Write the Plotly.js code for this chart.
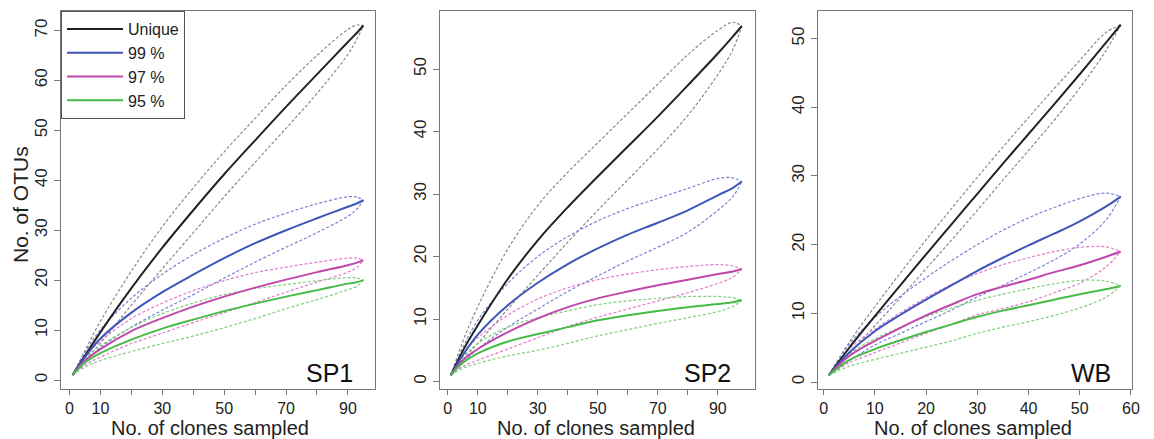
<!DOCTYPE html>
<html>
<head>
<meta charset="utf-8">
<script src="https://cdn.plot.ly/plotly-3.0.1.min.js"></script>
<style>html,body{margin:0;padding:0;background:#fff;}#chart{width:1154px;height:439px;}</style>
</head>
<body>
<div id="chart"></div>
<script>
// ---- data ----
var seriesNames = ["Unique", "99 %", "97 %", "95 %"];
var panelLabels = ["SP1", "SP2", "WB"];
var xTitle = "No. of clones sampled";
var yTitle = "No. of OTUs";

// SP1
var sp1X = [1, 5, 10, 20, 30, 40, 50, 60, 70, 80, 90, 93, 95];
var sp1Unique      = [1, 4.9, 9.6, 18.4, 26.5, 34, 41.2, 48, 54.7, 61.2, 67.7, 69.6, 71];
var sp1UniqueUpper = [1, 5.9, 11.8, 21.8, 30.7, 38.5, 45.7, 52.4, 59, 65, 70.2, 71.1, 71];
var sp1UniqueLower = [1, 3.9, 7.4, 15, 22.3, 29.5, 36.7, 43.6, 50.4, 57.4, 65.2, 68.4, 71];
var sp1P99      = [1, 4.6, 8.3, 13.5, 17.6, 21.1, 24.4, 27.4, 30, 32.4, 34.7, 35.4, 36];
var sp1P99Upper = [1, 5.6, 10.1, 16.4, 21.2, 25.1, 28.4, 31.2, 33.4, 35.3, 36.7, 36.6, 36];
var sp1P99Lower = [1, 3.6, 6.5, 10.6, 14, 17.1, 20.4, 23.6, 26.6, 29.5, 32.8, 34.3, 36];
var sp1P97      = [1, 3.9, 6.2, 9.8, 12.4, 14.7, 16.7, 18.5, 20.1, 21.6, 23, 23.5, 24];
var sp1P97Upper = [1, 4.8, 7.8, 12.3, 15.4, 17.9, 19.9, 21.5, 22.6, 23.6, 24.4, 24.4, 24];
var sp1P97Lower = [1, 3, 4.6, 7.3, 9.4, 11.5, 13.5, 15.5, 17.6, 19.6, 21.6, 22.6, 24];
var sp1P95      = [1, 3.5, 5.4, 8.1, 10.3, 12.1, 13.8, 15.3, 16.7, 18, 19.3, 19.6, 20];
var sp1P95Upper = [1, 4.4, 6.9, 10.5, 13.3, 15.4, 17.1, 18.3, 19.1, 19.9, 20.5, 20.4, 20];
var sp1P95Lower = [1, 2.6, 3.9, 5.7, 7.3, 8.8, 10.5, 12.3, 14.3, 16.1, 18.1, 18.8, 20];

// SP2
var sp2X = [1, 5, 10, 20, 30, 40, 50, 60, 70, 80, 90, 95, 98];
var sp2Unique      = [1, 4.9, 9, 16.4, 22.6, 27.9, 32.8, 37.6, 42.4, 47.4, 52.5, 55.2, 56.9];
var sp2UniqueUpper = [1, 6.4, 12, 21.2, 28.2, 33.5, 38.2, 42.9, 47.6, 52.3, 56.2, 57.5, 56.9];
var sp2UniqueLower = [1, 3.5, 6.1, 11.6, 17, 22.3, 27.4, 32.3, 37.2, 42.6, 49.1, 53.1, 56.9];
var sp2P99      = [1, 4.2, 7.5, 12.2, 15.8, 18.8, 21.3, 23.5, 25.4, 27.4, 29.8, 31, 32];
var sp2P99Upper = [1, 5.4, 9.8, 15.7, 20, 23.2, 25.7, 27.7, 29.3, 30.9, 32.5, 32.6, 32];
var sp2P99Lower = [1, 3, 5.2, 8.7, 11.6, 14.4, 16.9, 19.3, 21.5, 23.9, 27.4, 29.6, 32];
var sp2P97      = [1, 3.4, 5.2, 7.9, 10.1, 11.9, 13.3, 14.4, 15.4, 16.3, 17.2, 17.6, 18];
var sp2P97Upper = [1, 4.4, 7, 10.6, 13.2, 15, 16.3, 17.2, 17.9, 18.4, 18.7, 18.5, 18];
var sp2P97Lower = [1, 2.4, 3.4, 5.2, 7, 8.8, 10.3, 11.6, 12.9, 14.2, 15.7, 16.7, 18];
var sp2P95      = [1, 3, 4.5, 6.4, 7.6, 8.7, 9.8, 10.6, 11.3, 11.9, 12.4, 12.7, 13];
var sp2P95Upper = [1, 3.9, 6.1, 8.7, 10.2, 11.3, 12.3, 12.9, 13.3, 13.6, 13.6, 13.4, 13];
var sp2P95Lower = [1, 2.1, 2.9, 4.1, 5, 6.1, 7.3, 8.3, 9.3, 10.2, 11.2, 12, 13];

// WB
var wbX = [1, 5, 10, 15, 20, 25, 30, 35, 40, 45, 50, 55, 58];
var wbUnique      = [1, 5, 9.6, 14.1, 18.6, 23, 27.4, 31.8, 36.1, 40.4, 44.8, 49.3, 52];
var wbUniqueUpper = [1, 5.8, 11, 15.9, 20.7, 25.3, 29.8, 34.2, 38.5, 42.7, 46.8, 50.8, 52];
var wbUniqueLower = [1, 4.2, 8.2, 12.3, 16.5, 20.7, 25, 29.4, 33.7, 38.1, 42.8, 48.1, 52];
var wbP99      = [1, 4.3, 7.4, 9.8, 12, 14.1, 16.2, 18.1, 19.9, 21.6, 23.4, 25.5, 27];
var wbP99Upper = [1, 5.5, 9.4, 12.5, 15.2, 17.7, 20, 22.1, 23.9, 25.4, 26.7, 27.5, 27];
var wbP99Lower = [1, 3.1, 5.4, 7.1, 8.8, 10.5, 12.4, 14.1, 15.9, 17.8, 20.1, 23.5, 27];
var wbP97      = [1, 3.8, 6, 7.9, 9.7, 11.3, 12.8, 13.9, 14.9, 16, 17, 18.2, 19];
var wbP97Upper = [1, 4.8, 7.7, 10.1, 12.3, 14.2, 15.8, 17.1, 18.1, 19, 19.6, 19.7, 19];
var wbP97Lower = [1, 2.8, 4.3, 5.7, 7.1, 8.4, 9.8, 10.7, 11.7, 13, 14.4, 16.7, 19];
var wbP95      = [1, 3.2, 4.8, 6.1, 7.3, 8.4, 9.5, 10.4, 11.2, 12, 12.8, 13.5, 14];
var wbP95Upper = [1, 4.1, 6.3, 8, 9.5, 10.8, 11.9, 12.8, 13.6, 14.3, 14.8, 14.7, 14];
var wbP95Lower = [1, 2.3, 3.3, 4.2, 5.1, 6, 7.1, 8, 8.8, 9.7, 10.8, 12.3, 14];

var xTickVals12 = [0, 10, 20, 30, 40, 50, 60, 70, 80, 90];
var xTickText12 = ["0", "10", "", "30", "", "50", "", "70", "", "90"];
var xTickVals3 = [0, 10, 20, 30, 40, 50, 60];
var yTickVals1 = [0, 10, 20, 30, 40, 50, 60, 70];
var yTickVals23 = [0, 10, 20, 30, 40, 50];

// ---- styling ----
var solidColors = ["#222222", "#3f55b8", "#c048ac", "#46bb46"];
var dashColors  = ["#8a8a8a", "#7b80d6", "#e07cc8", "#7fd07f"];

var panels = [
  {x: sp1X, mean: [sp1Unique, sp1P99, sp1P97, sp1P95], up: [sp1UniqueUpper, sp1P99Upper, sp1P97Upper, sp1P95Upper], lo: [sp1UniqueLower, sp1P99Lower, sp1P97Lower, sp1P95Lower]},
  {x: sp2X, mean: [sp2Unique, sp2P99, sp2P97, sp2P95], up: [sp2UniqueUpper, sp2P99Upper, sp2P97Upper, sp2P95Upper], lo: [sp2UniqueLower, sp2P99Lower, sp2P97Lower, sp2P95Lower]},
  {x: wbX,  mean: [wbUnique, wbP99, wbP97, wbP95], up: [wbUniqueUpper, wbP99Upper, wbP97Upper, wbP95Upper], lo: [wbUniqueLower, wbP99Lower, wbP97Lower, wbP95Lower]}
];

var traces = [];
panels.forEach(function (p, pi) {
  var xa = pi === 0 ? "x" : "x" + (pi + 1);
  var ya = pi === 0 ? "y" : "y" + (pi + 1);
  for (var s = 0; s < 4; s++) {
    [p.up[s], p.lo[s]].forEach(function (arr) {
      traces.push({x: p.x, y: arr, xaxis: xa, yaxis: ya, mode: "lines", showlegend: false, hoverinfo: "skip",
        line: {color: dashColors[s], width: 1.2, dash: "3px,2px", shape: "spline", smoothing: 1}});
    });
  }
  for (var s2 = 0; s2 < 4; s2++) {
    traces.push({x: p.x, y: p.mean[s2], xaxis: xa, yaxis: ya, mode: "lines", name: seriesNames[s2],
      showlegend: pi === 0, line: {color: solidColors[s2], width: 2, shape: "spline", smoothing: 1}});
  }
});

var W = 1154, H = 439;
function dx(a, b) { return [a / W, b / W]; }
var yDom = [(H - 389) / H, (H - 11) / H];
var font = "Liberation Sans, Arial, sans-serif";

function xAxis(dom, range, tv, tt, anchor) {
  return {domain: dom, range: range, anchor: anchor, tickvals: tv, ticktext: tt, showgrid: false, zeroline: false,
    showline: true, mirror: true, linecolor: "#777", linewidth: 1, ticks: "outside", ticklen: 5, tickcolor: "#777",
    tickfont: {family: font, size: 16, color: "#222"}};
}
function yAxis(range, tv, anchor) {
  return {domain: yDom, range: range, anchor: anchor, tickvals: tv, showgrid: false, zeroline: false,
    showline: true, mirror: true, linecolor: "#777", linewidth: 1, ticks: "outside", ticklen: 6, tickcolor: "#777",
    tickangle: -90, tickfont: {family: font, size: 17, color: "#222"}};
}

var annotations = panelLabels.map(function (t, i) {
  var sfx = i === 0 ? "" : String(i + 1);
  var rights = [0.936, 0.93, 0.94];
  return {text: t, xref: "x" + sfx + " domain", yref: "y" + sfx + " domain", x: rights[i], y: 0.0, xanchor: "right", yanchor: "bottom",
    showarrow: false, font: {family: font, size: 25, color: "#111"}};
});
var titleCenters = [210, 596, 973];
titleCenters.forEach(function (c) {
  annotations.push({text: xTitle, xref: "paper", yref: "paper", x: c / W, y: (H - 428) / H, xanchor: "center", yanchor: "middle",
    showarrow: false, font: {family: font, size: 20, color: "#222"}});
});
annotations.push({text: yTitle, xref: "paper", yref: "paper", x: 20 / W, y: (H - 205) / H, xanchor: "center", yanchor: "middle",
  textangle: -90, showarrow: false, font: {family: font, size: 21, color: "#222"}});

var layout = {
  width: W, height: H, margin: {l: 0, r: 0, t: 0, b: 0}, paper_bgcolor: "#fff", plot_bgcolor: "#fff",
  showlegend: true,
  legend: {x: 61 / W, y: (H - 11) / H, xanchor: "left", yanchor: "top", bgcolor: "#fff", bordercolor: "#555", borderwidth: 1,
    font: {family: font, size: 16, color: "#222"}, itemwidth: 56, tracegroupgap: 0},
  xaxis: xAxis(dx(61, 375), [-2.76, 98.76], xTickVals12, xTickText12, "y"),
  yaxis: yAxis([-1.8, 73.9], yTickVals1, "x"),
  xaxis2: xAxis(dx(440, 755), [-2.6, 102.4], xTickVals12, xTickText12, "y2"),
  yaxis2: yAxis([-1.2, 59.3], yTickVals23, "x2"),
  xaxis3: xAxis(dx(818, 1132), [-1.1, 60.2], xTickVals3, xTickVals3.map(String), "y3"),
  yaxis3: yAxis([-1.0, 54.0], yTickVals23, "x3"),
  annotations: annotations
};

Plotly.newPlot("chart", traces, layout, {staticPlot: true, displayModeBar: false});
</script>
</body>
</html>
